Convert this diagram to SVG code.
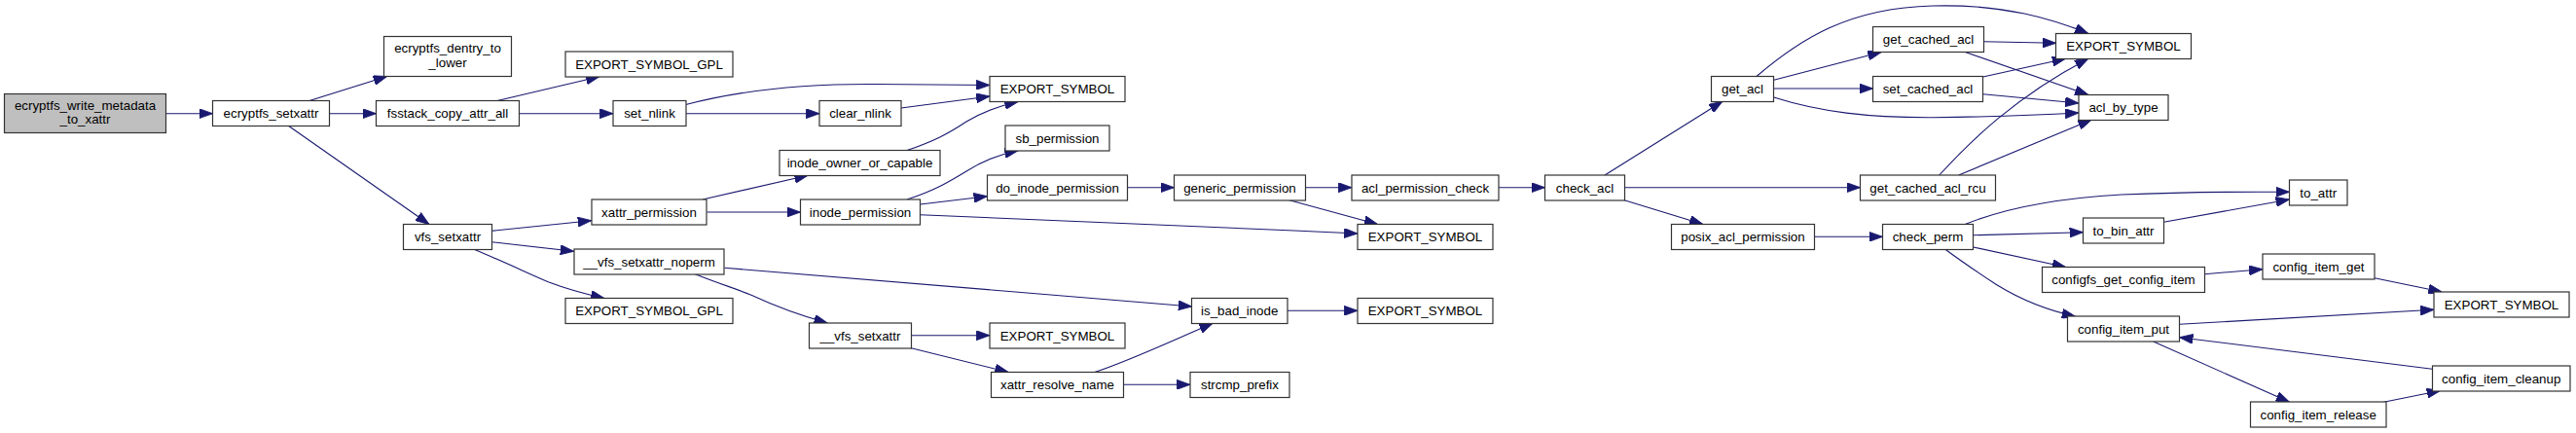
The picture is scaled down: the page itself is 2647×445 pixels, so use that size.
<svg xmlns="http://www.w3.org/2000/svg" width="2647" height="445" viewBox="0 0 2647 445">
<style>
.n rect{fill:#ffffff;stroke:#333333;stroke-width:1.2}
.n.root rect{fill:#bfbfbf}
.n text{font-family:"Liberation Sans",Arial,sans-serif;font-size:13.33px;fill:#000000;text-anchor:middle}
.e path{fill:none;stroke:#191970;stroke-width:1.1;marker-end:url(#ah)}
</style>
<defs>
<marker id="ah" markerUnits="userSpaceOnUse" markerWidth="14" markerHeight="10" viewBox="0 0 13 9.4" refX="13" refY="4.7" orient="auto">
<path d="M0,0 L13,4.7 L0,9.4 z" fill="#191970" stroke="#191970" stroke-width="0.8"/>
</marker>
</defs>
<rect width="2647" height="445" fill="#ffffff"/>
<g id="edges" class="e">
<path d="M170.7,116.7 L218.5,116.7"/>
<path d="M318,103.5 L397.7,78.5"/>
<path d="M338.5,116.7 L386.5,116.7"/>
<path d="M296.7,129.5 L441,230.5"/>
<path d="M511,103.5 L616,78.7"/>
<path d="M533.5,116.7 L630,116.7"/>
<path d="M704.7,107.5 C760,93 830,86 900,86.5 C950,86.8 990,87.2 1017,87.5"/>
<path d="M705,116.7 L842,116.7"/>
<path d="M926,111 L1017,99"/>
<path d="M932,154.5 C960,145 975,137 993,125 C1010,115 1030,108 1046.3,104.5"/>
<path d="M505.5,237.3 L607.7,226.7"/>
<path d="M505.5,248.7 L589.7,258.3"/>
<path d="M487.7,256.5 C520,270 545,282 564,290 C585,298 605,303 621,306.5"/>
<path d="M722,205 L830.3,180.2"/>
<path d="M726.5,218 L822.5,218"/>
<path d="M932,205 C960,196 975,187 993,176 C1010,165 1030,158 1046.3,154.7"/>
<path d="M945.5,210 L1014.5,201.7"/>
<path d="M945.5,220.7 C1100,227 1250,234 1330,237 C1360,238.5 1380,239.5 1395,240"/>
<path d="M744.5,275.3 L1224.7,315"/>
<path d="M713.7,281.5 C740,292 760,298 772,303.3 C795,314 825,325 850.3,332"/>
<path d="M936.7,344.7 L1017,344.7"/>
<path d="M935.3,357.5 L1036.3,382.5"/>
<path d="M1158.7,192.7 L1206.5,192.7"/>
<path d="M1341.5,192.7 L1389,192.7"/>
<path d="M1324,205.5 L1415.7,230.5"/>
<path d="M1124.7,382.5 C1160,371 1200,352 1246.3,332.2"/>
<path d="M1154.7,395.3 L1223,395.3"/>
<path d="M1323,319.3 L1395,319.3"/>
<path d="M1540,192.7 L1587.5,192.7"/>
<path d="M1649,180 L1770,104.2"/>
<path d="M1669.5,192.7 L1911.5,192.7"/>
<path d="M1668.3,205.5 L1750,230.5"/>
<path d="M1805,78.5 C1850,40 1900,8 1986,6 C2060,4 2110,20 2146,34.5"/>
<path d="M1822.7,82.3 L1933.3,53.5"/>
<path d="M1822.7,91 L1924.5,91"/>
<path d="M1822.7,100 C1870,115 1920,121 1986,120.7 C2050,120 2100,118 2136,116"/>
<path d="M2038.5,42.7 L2112.7,44.3"/>
<path d="M2019.3,53.5 L2146,97.5"/>
<path d="M2037.7,79 L2122.7,60.2"/>
<path d="M2037.7,96.7 L2136,106"/>
<path d="M1992.7,180 C2025,145 2070,100 2146,60.2"/>
<path d="M2012.7,180 L2149.3,123"/>
<path d="M1864,243.3 L1934.5,243.3"/>
<path d="M2019.3,230.5 C2060,214 2110,204 2180,200 C2250,197 2310,197 2352.5,197.3"/>
<path d="M2027.7,241.7 L2140.5,238.7"/>
<path d="M2223.3,228.3 L2352.5,205"/>
<path d="M2027.7,254 L2122.7,274.5"/>
<path d="M1999.3,256.5 C2020,272 2040,285 2052.7,293.3 C2075,307 2100,318 2132.7,325.3"/>
<path d="M2265.3,281.7 L2325,276.7"/>
<path d="M2440,285.7 L2509.3,300"/>
<path d="M2239.5,333.3 L2501,318.3"/>
<path d="M2499.3,379.3 L2239.5,346.7"/>
<path d="M2212.7,351 L2352.7,413.3"/>
<path d="M2449.3,413.3 L2507.7,401.5"/>
</g>
<g id="n1" class="n root"><rect x="4.5" y="96.5" width="166" height="40"/><text x="87.5" y="112.5">ecryptfs_write_metadata</text><text x="87.5" y="127">_to_xattr</text></g>
<g id="n2" class="n"><rect x="218.5" y="103.5" width="120" height="26"/><text x="278.5" y="121.2">ecryptfs_setxattr</text></g>
<g id="n3" class="n"><rect x="394.5" y="37.5" width="131" height="41"/><text x="460" y="54">ecryptfs_dentry_to</text><text x="460" y="68.5">_lower</text></g>
<g id="n4" class="n"><rect x="386.5" y="103.5" width="147" height="26"/><text x="460" y="121.2">fsstack_copy_attr_all</text></g>
<g id="n5" class="n"><rect x="581" y="53" width="172" height="26"/><text x="667" y="70.7">EXPORT_SYMBOL_GPL</text></g>
<g id="n6" class="n"><rect x="630" y="103.5" width="75" height="26"/><text x="667.5" y="121.2">set_nlink</text></g>
<g id="n7" class="n"><rect x="842" y="103.5" width="84" height="26"/><text x="884" y="121.2">clear_nlink</text></g>
<g id="n8" class="n"><rect x="1017" y="78.5" width="139" height="26"/><text x="1086.5" y="96.2">EXPORT_SYMBOL</text></g>
<g id="n9" class="n"><rect x="414.5" y="230.5" width="91" height="26"/><text x="460" y="248.2">vfs_setxattr</text></g>
<g id="n10" class="n"><rect x="608" y="205" width="118" height="26"/><text x="667" y="222.7">xattr_permission</text></g>
<g id="n11" class="n"><rect x="590" y="256" width="154" height="26"/><text x="667" y="273.7">__vfs_setxattr_noperm</text></g>
<g id="n12" class="n"><rect x="581" y="306.5" width="172" height="26"/><text x="667" y="324.2">EXPORT_SYMBOL_GPL</text></g>
<g id="n13" class="n"><rect x="801" y="154.5" width="165" height="26"/><text x="883.5" y="172.2">inode_owner_or_capable</text></g>
<g id="n14" class="n"><rect x="822.5" y="205" width="123" height="26"/><text x="884" y="222.7">inode_permission</text></g>
<g id="n15" class="n"><rect x="1033" y="129" width="107" height="26"/><text x="1086.5" y="146.7">sb_permission</text></g>
<g id="n16" class="n"><rect x="1014.5" y="180" width="144" height="26"/><text x="1086.5" y="197.7">do_inode_permission</text></g>
<g id="n17" class="n"><rect x="1206.5" y="180" width="135" height="26"/><text x="1274" y="197.7">generic_permission</text></g>
<g id="n18" class="n"><rect x="1389" y="180" width="151" height="26"/><text x="1464.5" y="197.7">acl_permission_check</text></g>
<g id="n19" class="n"><rect x="1395" y="230.5" width="139" height="26"/><text x="1464.5" y="248.2">EXPORT_SYMBOL</text></g>
<g id="n20" class="n"><rect x="831.5" y="332" width="105" height="26"/><text x="884" y="349.7">__vfs_setxattr</text></g>
<g id="n21" class="n"><rect x="1017" y="332" width="139" height="26"/><text x="1086.5" y="349.7">EXPORT_SYMBOL</text></g>
<g id="n22" class="n"><rect x="1018.5" y="382.5" width="136" height="26"/><text x="1086.5" y="400.2">xattr_resolve_name</text></g>
<g id="n23" class="n"><rect x="1224.5" y="306.5" width="98.5" height="26"/><text x="1273.7" y="324.2">is_bad_inode</text></g>
<g id="n24" class="n"><rect x="1395" y="306.5" width="139" height="26"/><text x="1464.5" y="324.2">EXPORT_SYMBOL</text></g>
<g id="n25" class="n"><rect x="1223" y="382.5" width="102" height="26"/><text x="1274" y="400.2">strcmp_prefix</text></g>
<g id="n26" class="n"><rect x="1587.5" y="180" width="82" height="26"/><text x="1628.5" y="197.7">check_acl</text></g>
<g id="n27" class="n"><rect x="1758.5" y="78.5" width="64" height="26"/><text x="1790.5" y="96.2">get_acl</text></g>
<g id="n28" class="n"><rect x="1924.5" y="27.5" width="114" height="26"/><text x="1981.5" y="45.2">get_cached_acl</text></g>
<g id="n29" class="n"><rect x="1924.5" y="78.5" width="113" height="26"/><text x="1981" y="96.2">set_cached_acl</text></g>
<g id="n30" class="n"><rect x="2112.5" y="34.5" width="139" height="26"/><text x="2182" y="52.2">EXPORT_SYMBOL</text></g>
<g id="n31" class="n"><rect x="2136" y="97.5" width="92" height="26"/><text x="2182" y="115.2">acl_by_type</text></g>
<g id="n32" class="n"><rect x="1911.5" y="180" width="139" height="26"/><text x="1981" y="197.7">get_cached_acl_rcu</text></g>
<g id="n33" class="n"><rect x="1717.5" y="230.5" width="147" height="26"/><text x="1791" y="248.2">posix_acl_permission</text></g>
<g id="n34" class="n"><rect x="1934.5" y="230.5" width="93" height="26"/><text x="1981" y="248.2">check_perm</text></g>
<g id="n35" class="n"><rect x="2352.5" y="185" width="59.5" height="26"/><text x="2382.2" y="202.7">to_attr</text></g>
<g id="n36" class="n"><rect x="2140.5" y="224" width="83" height="26"/><text x="2182" y="241.7">to_bin_attr</text></g>
<g id="n37" class="n"><rect x="2098.5" y="274.5" width="167" height="26"/><text x="2182" y="292.2">configfs_get_config_item</text></g>
<g id="n38" class="n"><rect x="2325" y="261" width="115" height="26"/><text x="2382.5" y="278.7">config_item_get</text></g>
<g id="n39" class="n"><rect x="2501" y="300" width="139" height="26"/><text x="2570.5" y="317.7">EXPORT_SYMBOL</text></g>
<g id="n40" class="n"><rect x="2124.5" y="325" width="115" height="26"/><text x="2182" y="342.7">config_item_put</text></g>
<g id="n41" class="n"><rect x="2499.5" y="376" width="141.5" height="26"/><text x="2570.2" y="393.7">config_item_cleanup</text></g>
<g id="n42" class="n"><rect x="2312.5" y="413" width="139.5" height="26"/><text x="2382.2" y="430.7">config_item_release</text></g>
</svg>
